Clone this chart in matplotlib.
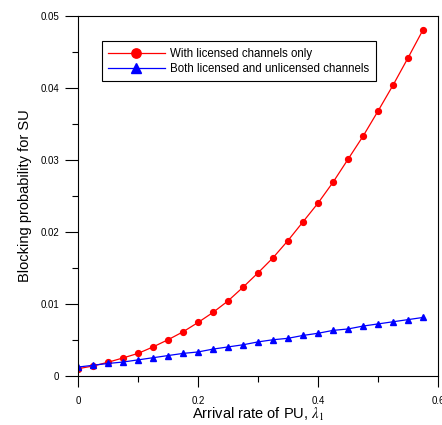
import matplotlib
matplotlib.use("Agg")
import matplotlib.pyplot as plt
from matplotlib.ticker import MultipleLocator

plt.rcParams['font.family'] = ['Liberation Sans', 'DejaVu Sans']
plt.rcParams['mathtext.fontset'] = 'stix'

# arrival rate of PU
lam = [0.0, 0.025, 0.05, 0.075, 0.1, 0.125, 0.15, 0.175, 0.2, 0.225, 0.25, 0.275,
       0.3, 0.325, 0.35, 0.375, 0.4, 0.425, 0.45, 0.475, 0.5, 0.525, 0.55, 0.575]

# blocking probability, licensed channels only
p_licensed = [0.00097, 0.00135, 0.00187, 0.00247, 0.0031, 0.0040, 0.0050, 0.0061,
              0.0074, 0.0088, 0.0104, 0.0123, 0.0143, 0.0164, 0.0188, 0.0214,
              0.0240, 0.0269, 0.0301, 0.0333, 0.0368, 0.0404, 0.0442, 0.0481]

# blocking probability, licensed + unlicensed
p_both = [0.0012, 0.00145, 0.0017, 0.0019, 0.0022, 0.0025, 0.0028, 0.0031,
          0.0033, 0.0037, 0.0040, 0.0043, 0.0047, 0.0050, 0.0052, 0.0056,
          0.0059, 0.0063, 0.0065, 0.0069, 0.0072, 0.0075, 0.0078, 0.0081]

xticks = [0, 0.2, 0.4, 0.6]
xlabels = ['0', '0.2', '0.4', '0.6']
yticks = [0, 0.01, 0.02, 0.03, 0.04, 0.05]
ylabels = ['0', '0.01', '0.02', '0.03', '0.04', '0.05']

fig = plt.figure(figsize=(4.42, 4.25), dpi=100)
ax = fig.add_axes([0.1765, 0.116, 0.8145, 0.846])

ax.plot(lam, p_licensed, color='red', lw=0.9, marker='o', ms=4.2,
        label='With licensed channels only')
ax.plot(lam, p_both, color='blue', lw=0.9, marker='^', ms=4.2,
        label='Both licensed and unlicensed channels')

ax.set_xlim(0, 0.6)
ax.set_ylim(0, 0.05)
ax.set_xticks(xticks)
ax.set_xticklabels(xlabels)
ax.set_yticks(yticks)
ax.set_yticklabels(ylabels)
ax.xaxis.set_minor_locator(MultipleLocator(0.1))
ax.yaxis.set_minor_locator(MultipleLocator(0.005))
ax.tick_params(axis='x', which='major', direction='out', length=8, width=0.8, labelsize=7, pad=6.5)
ax.tick_params(axis='y', which='major', direction='out', length=9.5, width=0.8, labelsize=7, pad=4)
ax.tick_params(which='minor', direction='out', length=4, width=0.8)

for s in ax.spines.values():
    s.set_linewidth(0.8)

ax.set_xlabel(r'Arrival rate of PU, $\lambda_1$', fontsize=10.5, labelpad=0)
ax.set_ylabel('Blocking probability for SU', fontsize=10.5, labelpad=6)

leg = ax.legend(loc='upper left', bbox_to_anchor=(0.066, 0.93), borderaxespad=0,
                fontsize=8.3, markerscale=1.6, handlelength=4.9, fancybox=False,
                framealpha=1, edgecolor='black', borderpad=0.55, labelspacing=0.3,
                handletextpad=0.5)
leg.get_frame().set_linewidth(0.8)

fig.savefig('out.png', dpi=100)
